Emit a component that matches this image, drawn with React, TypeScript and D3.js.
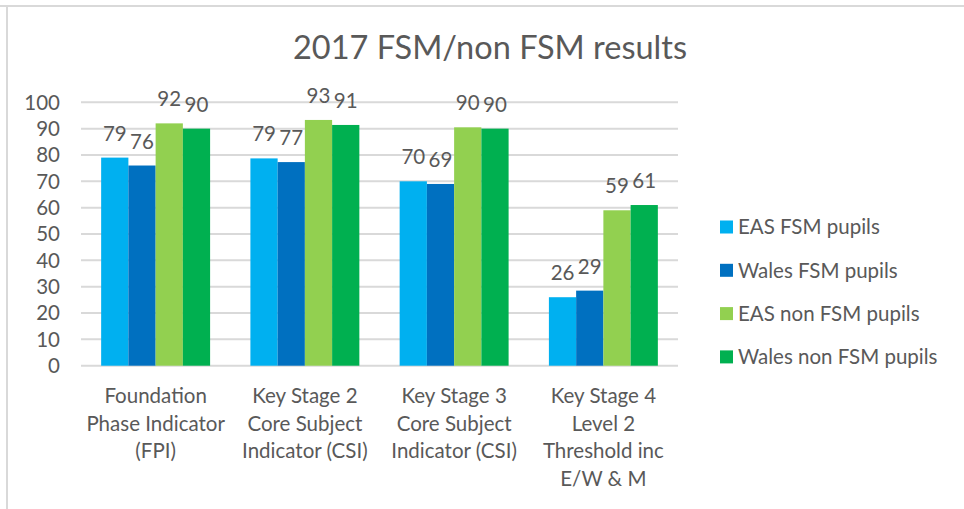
import React from 'react';
import * as d3 from 'd3';

const categories = [
  ['Foundation', 'Phase Indicator', '(FPI)'],
  ['Key Stage 2', 'Core Subject', 'Indicator (CSI)'],
  ['Key Stage 3', 'Core Subject', 'Indicator (CSI)'],
  ['Key Stage 4', 'Level 2', 'Threshold inc', 'E/W & M'],
];
const seriesNames = ['EAS FSM pupils', 'Wales FSM pupils', 'EAS non FSM pupils', 'Wales non FSM pupils'];
const seriesColors = ['#00B0F0', '#0070C0', '#92D050', '#00B050'];
const easFsm = [79, 78.7, 70, 26];
const walesFsm = [76, 77.3, 69, 28.5];
const easNonFsm = [92, 93.3, 90.5, 59];
const walesNonFsm = [90, 91.4, 90, 61];
const valueLabels = [
  [79, 79, 70, 26],
  [76, 77, 69, 29],
  [92, 93, 90, 59],
  [90, 91, 90, 61],
];
const yTicks = [0, 10, 20, 30, 40, 50, 60, 70, 80, 90, 100];

const W = 964;
const H = 509;
const FONT = 'Lato, "Open Sans", sans-serif';
const TEXT = '#595959';
const FS = 20.5;

export default function App() {
  const values = [easFsm, walesFsm, easNonFsm, walesNonFsm];
  const catIdx = categories.map((_, i) => String(i));

  // plot area
  const x0 = d3.scaleBand().domain(catIdx).range([81, 678]).paddingInner(0.27).paddingOuter(0.135);
  const x1 = d3.scaleBand().domain(seriesNames).range([0, x0.bandwidth()]);
  const y = d3.scaleLinear().domain([0, 100]).range([365.7, 102.3]);
  const cx = (ci: number) => (x0(String(ci)) ?? 0) + x0.bandwidth() / 2;

  return (
    <div style={{ position: 'absolute', left: 0, top: 0 }}>
      <svg width={W} height={H} style={{ display: 'block', background: '#fff' }}>
        {/* frame */}
        <line x1={0} x2={W} y1={6} y2={6} stroke="#d9d9d9" strokeWidth={2} />
        <line x1={7} x2={7} y1={5} y2={H} stroke="#d9d9d9" strokeWidth={2} />

        <text x={490} y={59} textAnchor="middle" fontFamily={FONT} fontSize={32.5} fill={TEXT}>
          2017 FSM/non FSM results
        </text>

        {/* gridlines + y axis */}
        {yTicks.map(t => (
          <g key={t}>
            <line x1={81} x2={678} y1={y(t)} y2={y(t)} stroke="#d9d9d9" strokeWidth={2} />
            <text x={60} y={y(t)} dy="0.36em" textAnchor="end" fontFamily={FONT} fontSize={FS} fill={TEXT}>
              {t}
            </text>
          </g>
        ))}

        {/* bars */}
        {seriesNames.map((s, si) => (
          <g key={s} fill={seriesColors[si]}>
            {values[si].map((v, ci) => (
              <rect
                key={ci}
                x={(x0(String(ci)) ?? 0) + (x1(s) ?? 0)}
                y={y(v)}
                width={x1.bandwidth()}
                height={y(0) - y(v)}
              />
            ))}
          </g>
        ))}

        {/* data labels */}
        {seriesNames.map((s, si) => (
          <g key={s + '-lab'}>
            {values[si].map((v, ci) => (
              <text
                key={ci}
                x={(x0(String(ci)) ?? 0) + (x1(s) ?? 0) + x1.bandwidth() / 2}
                y={y(v) - 17}
                textAnchor="middle"
                fontFamily={FONT}
                fontSize={FS}
                fill={TEXT}
              >
                {valueLabels[si][ci]}
              </text>
            ))}
          </g>
        ))}

        {/* category labels */}
        {categories.map((lines, ci) => (
          <text key={ci} textAnchor="middle" fontFamily={FONT} fontSize={FS} fill={TEXT}>
            {lines.map((l, li) => (
              <tspan key={li} x={cx(ci)} y={403 + li * 27.7}>
                {l}
              </tspan>
            ))}
          </text>
        ))}

        {/* legend */}
        {seriesNames.map((s, si) => (
          <g key={s + '-leg'} transform={`translate(720, ${227 + si * 43.3})`}>
            <rect x={0} y={-6.5} width={13} height={13} fill={seriesColors[si]} />
            <text x={18} y={0} dy="0.36em" fontFamily={FONT} fontSize={FS} fill={TEXT}>
              {s}
            </text>
          </g>
        ))}
      </svg>
    </div>
  );
}
